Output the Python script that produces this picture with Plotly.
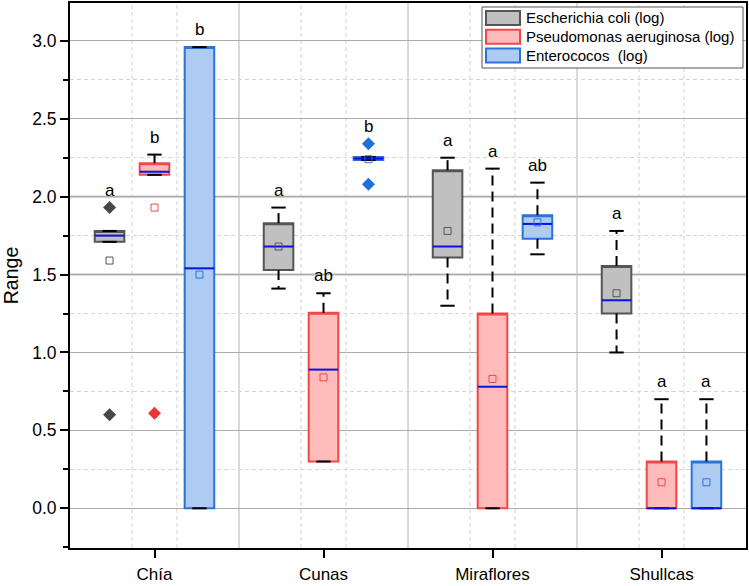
import plotly.graph_objects as go

categories = ["Chía", "Cunas", "Miraflores", "Shullcas"]
series_names = ["Escherichia coli (log)", "Pseudomonas aeruginosa (log)", "Enterococos  (log)"]

# Escherichia coli (log)
ecoli_q1 = [1.71, 1.53, 1.61, 1.25]
ecoli_median = [1.75, 1.68, 1.68, 1.335]
ecoli_q3 = [1.78, 1.83, 2.17, 1.555]
ecoli_low = [1.71, 1.41, 1.30, 1.00]
ecoli_high = [1.78, 1.93, 2.25, 1.78]
ecoli_mean = [1.59, 1.68, 1.78, 1.38]
ecoli_outliers = [[1.93, 0.60], [], [], []]
ecoli_letters = ["a", "a", "a", "a"]

# Pseudomonas aeruginosa (log)
pseudo_q1 = [2.14, 0.30, 0.0, 0.0]
pseudo_median = [2.16, 0.89, 0.78, 0.0]
pseudo_q3 = [2.215, 1.255, 1.25, 0.30]
pseudo_low = [2.14, 0.30, 0.0, 0.0]
pseudo_high = [2.27, 1.38, 2.18, 0.70]
pseudo_mean = [1.93, 0.84, 0.83, 0.167]
pseudo_outliers = [[0.61], [], [], []]
pseudo_letters = ["b", "ab", "a", "a"]

# Enterococos (log)
entero_q1 = [0.0, 2.235, 1.73, 0.0]
entero_median = [1.54, 2.245, 1.825, 0.0]
entero_q3 = [2.96, 2.255, 1.88, 0.30]
entero_low = [0.0, 2.235, 1.63, 0.0]
entero_high = [2.96, 2.255, 2.09, 0.70]
entero_mean = [1.50, 2.24, 1.835, 0.167]
entero_outliers = [[], [2.34, 2.08], [], []]
entero_letters = ["b", "b", "ab", "a"]

series = [
    dict(q1=ecoli_q1, med=ecoli_median, q3=ecoli_q3, lo=ecoli_low, hi=ecoli_high,
         mean=ecoli_mean, out=ecoli_outliers, let=ecoli_letters),
    dict(q1=pseudo_q1, med=pseudo_median, q3=pseudo_q3, lo=pseudo_low, hi=pseudo_high,
         mean=pseudo_mean, out=pseudo_outliers, let=pseudo_letters),
    dict(q1=entero_q1, med=entero_median, q3=entero_q3, lo=entero_low, hi=entero_high,
         mean=entero_mean, out=entero_outliers, let=entero_letters),
]

# styling
fills = ["#c0c0c0", "#ffbaba", "#aecbf2"]
edges = ["#555555", "#f04848", "#2a72dc"]
point_cols = ["#474747", "#ee3535", "#1f6fe0"]
offsets = [-0.266, 0.0, 0.266]
box_w = 0.175
cap_w = 0.085
FONT = "Arial, Liberation Sans, sans-serif"

W, H = 749, 586
ML, MR, MT, MB = 70, 3, 3, 38
PW, PH = W - ML - MR, H - MT - MB


def px_x(px):
    return (px - ML) / PW


def px_y(py):
    return (H - MB - py) / PH


fig = go.Figure()

cat_pos = list(range(1, len(categories) + 1))

# boxes
for s, d in enumerate(series):
    xs = [c + offsets[s] for c in cat_pos]
    fig.add_trace(go.Box(
        x=xs, q1=d["q1"], median=d["q3"], q3=d["q3"],
        lowerfence=d["q1"], upperfence=d["q3"],
        width=box_w, whiskerwidth=0,
        fillcolor=fills[s], line=dict(color=edges[s], width=2),
        name=series_names[s], boxpoints=False, hoverinfo="skip", showlegend=False,
    ))

# whiskers, caps, medians, means, outliers
for s, d in enumerate(series):
    xs = [c + offsets[s] for c in cat_pos]
    wx, wy, cx, cy, mx, my = [], [], [], [], [], []
    for i, x in enumerate(xs):
        wx += [x, x, None, x, x, None]
        wy += [d["q3"][i], d["hi"][i], None, d["q1"][i], d["lo"][i], None]
        cx += [x - cap_w / 2, x + cap_w / 2, None, x - cap_w / 2, x + cap_w / 2, None]
        cy += [d["hi"][i], d["hi"][i], None, d["lo"][i], d["lo"][i], None]
        mx += [x - box_w / 2, x + box_w / 2, None]
        my += [d["med"][i], d["med"][i], None]
    fig.add_trace(go.Scatter(x=wx, y=wy, mode="lines", showlegend=False, hoverinfo="skip",
                             line=dict(color="black", width=2, dash="10px,6px")))
    fig.add_trace(go.Scatter(x=cx, y=cy, mode="lines", showlegend=False, hoverinfo="skip",
                             line=dict(color="black", width=2)))
    fig.add_trace(go.Scatter(x=mx, y=my, mode="lines", showlegend=False, hoverinfo="skip",
                             line=dict(color="#0a10e6", width=2)))
    fig.add_trace(go.Scatter(x=xs, y=d["mean"], mode="markers", showlegend=False, hoverinfo="skip",
                             marker=dict(symbol="square-open", size=7,
                                         color=edges[s], line=dict(width=1))))
    ox, oy = [], []
    for i, x in enumerate(xs):
        for v in d["out"][i]:
            ox.append(x)
            oy.append(v)
    fig.add_trace(go.Scatter(x=ox, y=oy, mode="markers", showlegend=False, hoverinfo="skip",
                             marker=dict(symbol="diamond", size=10, color=point_cols[s])))
    # significance letters
    for i, x in enumerate(xs):
        top = max([d["hi"][i]] + d["out"][i])
        fig.add_annotation(x=x, y=top, text=d["let"][i], showarrow=False,
                           yanchor="bottom", yshift=6,
                           font=dict(family=FONT, size=17, color="black"))

# grid lines (drawn as shapes below the data)
shapes = []
for c in cat_pos[:-1]:
    shapes.append(dict(type="line", xref="x", yref="paper", x0=c + 0.5, x1=c + 0.5, y0=0, y1=1,
                       line=dict(color="#b4b4b4", width=1), layer="below"))
for c in cat_pos:
    for o in (-0.133, 0.133):
        shapes.append(dict(type="line", xref="x", yref="paper", x0=c + o, x1=c + o, y0=0, y1=1,
                           line=dict(color="#d2d2d2", width=1, dash="4px,3px"), layer="below"))
for v in [1.5, 2.0]:
    shapes.append(dict(type="line", xref="paper", yref="y", x0=0, x1=1, y0=v, y1=v,
                       line=dict(color="#cfcfcf", width=2.5), layer="below"))

# legend (drawn manually to match the large swatches)
leg_left, leg_right, leg_top, leg_bot = 482, 743, 7, 68
shapes.append(dict(type="rect", xref="paper", yref="paper",
                   x0=px_x(leg_left), x1=px_x(leg_right), y0=px_y(leg_bot), y1=px_y(leg_top),
                   fillcolor="white", line=dict(color="#555555", width=1), layer="above"))
row_h = 18.7
for s, name in enumerate(series_names):
    top = leg_top + 3 + s * row_h
    shapes.append(dict(type="rect", xref="paper", yref="paper",
                       x0=px_x(486), x1=px_x(520), y0=px_y(top + 15), y1=px_y(top + 1),
                       fillcolor=fills[s], line=dict(color=edges[s], width=2), layer="above"))
    fig.add_annotation(xref="paper", yref="paper", x=px_x(524), y=px_y(top + 8),
                       text=name, showarrow=False, xanchor="left", yanchor="middle",
                       font=dict(family=FONT, size=15, color="black"))

fig.update_layout(
    width=W, height=H,
    margin=dict(l=ML, r=MR, t=MT, b=MB),
    paper_bgcolor="white", plot_bgcolor="white",
    boxmode="overlay",
    shapes=shapes,
    font=dict(family=FONT, color="black"),
    showlegend=False,
    xaxis=dict(range=[0.5, 4.5], tickmode="array", tickvals=cat_pos, ticktext=categories,
               automargin=False,
               showgrid=False, zeroline=False, showline=True, linecolor="black", linewidth=2,
               mirror=True, ticks="outside", ticklen=8, tickwidth=2, tickcolor="black",
               ticklabelstandoff=2, tickfont=dict(family=FONT, size=17)),
    yaxis=dict(range=[-0.255, 3.243], tick0=0, dtick=0.5, tickformat=".1f",
               automargin=False,
               showgrid=True, gridcolor="#acacac", gridwidth=1, zeroline=False,
               showline=True, linecolor="black", linewidth=2, mirror=True,
               ticks="outside", ticklen=8, tickwidth=2, tickcolor="black",
               tickfont=dict(family=FONT, size=17.5),
               minor=dict(dtick=0.25, tick0=0, ticks="outside", ticklen=5, tickwidth=1.5,
                          tickcolor="black", showgrid=True, gridcolor="#d6d6d6",
                          griddash="4px,3px", gridwidth=1),
               title=dict(text="Range", font=dict(family=FONT, size=19.5), standoff=10)),
)

fig.write_html("out.html", config={"displayModeBar": False},
               post_script="document.body.style.margin='0';")
